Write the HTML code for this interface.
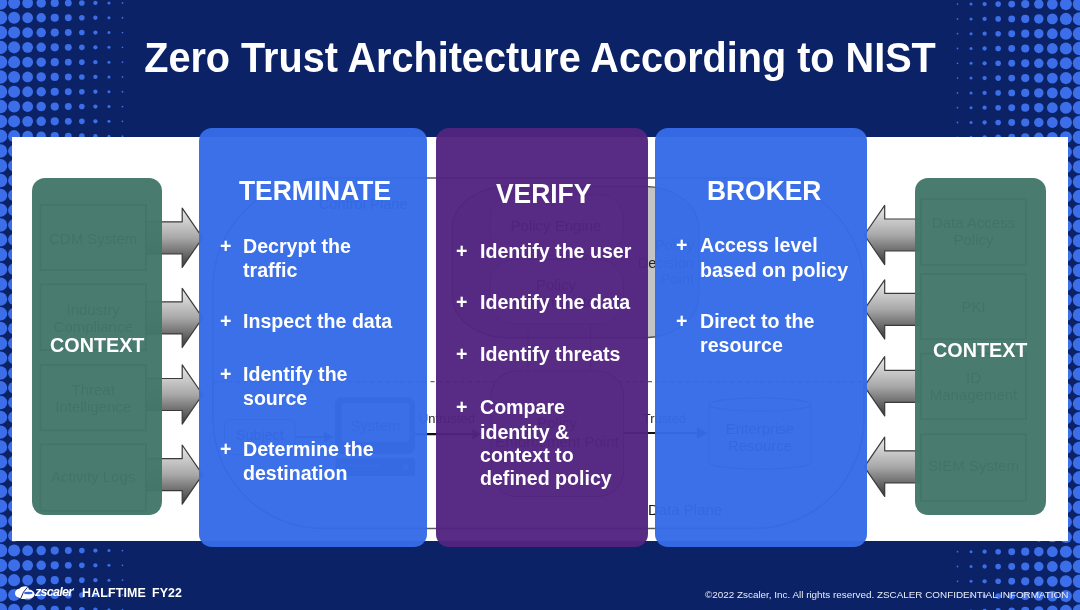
<!DOCTYPE html>
<html><head><meta charset="utf-8">
<style>
*{margin:0;padding:0;box-sizing:border-box}
html,body{width:1080px;height:610px;overflow:hidden;background:#0b2266}
body{position:relative;font-family:"Liberation Sans",sans-serif}
.t{position:absolute;white-space:nowrap;will-change:transform}
.abs{position:absolute}
svg text{font-family:"Liberation Sans",sans-serif}
</style></head><body>
<svg class="abs" style="left:0;top:0" width="1080" height="610" viewBox="0 0 1080 610">
<g fill="#3b6ee8"><circle cx="0.55" cy="2.95" r="6.68"/><circle cx="1079.45" cy="4.10" r="6.68"/><circle cx="0.55" cy="17.75" r="6.68"/><circle cx="1079.45" cy="18.90" r="6.68"/><circle cx="0.55" cy="32.55" r="6.68"/><circle cx="1079.45" cy="33.70" r="6.68"/><circle cx="0.55" cy="47.35" r="6.68"/><circle cx="1079.45" cy="48.50" r="6.68"/><circle cx="0.55" cy="62.15" r="6.68"/><circle cx="1079.45" cy="63.30" r="6.68"/><circle cx="0.55" cy="76.95" r="6.68"/><circle cx="1079.45" cy="78.10" r="6.68"/><circle cx="0.55" cy="91.75" r="6.68"/><circle cx="1079.45" cy="92.90" r="6.68"/><circle cx="0.55" cy="106.55" r="6.68"/><circle cx="1079.45" cy="107.70" r="6.68"/><circle cx="0.55" cy="121.35" r="6.68"/><circle cx="1079.45" cy="122.50" r="6.68"/><circle cx="0.55" cy="136.15" r="6.68"/><circle cx="1079.45" cy="137.30" r="6.68"/><circle cx="0.55" cy="150.95" r="6.68"/><circle cx="1079.45" cy="152.10" r="6.68"/><circle cx="0.55" cy="165.75" r="6.68"/><circle cx="1079.45" cy="166.90" r="6.68"/><circle cx="0.55" cy="180.55" r="6.68"/><circle cx="1079.45" cy="181.70" r="6.68"/><circle cx="0.55" cy="195.35" r="6.68"/><circle cx="1079.45" cy="196.50" r="6.68"/><circle cx="0.55" cy="210.15" r="6.68"/><circle cx="1079.45" cy="211.30" r="6.68"/><circle cx="0.55" cy="224.95" r="6.68"/><circle cx="1079.45" cy="226.10" r="6.68"/><circle cx="0.55" cy="239.75" r="6.68"/><circle cx="1079.45" cy="240.90" r="6.68"/><circle cx="0.55" cy="254.55" r="6.68"/><circle cx="1079.45" cy="255.70" r="6.68"/><circle cx="0.55" cy="269.35" r="6.68"/><circle cx="1079.45" cy="270.50" r="6.68"/><circle cx="0.55" cy="284.15" r="6.68"/><circle cx="1079.45" cy="285.30" r="6.68"/><circle cx="0.55" cy="298.95" r="6.68"/><circle cx="1079.45" cy="300.10" r="6.68"/><circle cx="0.55" cy="313.75" r="6.68"/><circle cx="1079.45" cy="314.90" r="6.68"/><circle cx="0.55" cy="328.55" r="6.68"/><circle cx="1079.45" cy="329.70" r="6.68"/><circle cx="0.55" cy="343.35" r="6.68"/><circle cx="1079.45" cy="344.50" r="6.68"/><circle cx="0.55" cy="358.15" r="6.68"/><circle cx="1079.45" cy="359.30" r="6.68"/><circle cx="0.55" cy="372.95" r="6.68"/><circle cx="1079.45" cy="374.10" r="6.68"/><circle cx="0.55" cy="387.75" r="6.68"/><circle cx="1079.45" cy="388.90" r="6.68"/><circle cx="0.55" cy="402.55" r="6.68"/><circle cx="1079.45" cy="403.70" r="6.68"/><circle cx="0.55" cy="417.35" r="6.68"/><circle cx="1079.45" cy="418.50" r="6.68"/><circle cx="0.55" cy="432.15" r="6.68"/><circle cx="1079.45" cy="433.30" r="6.68"/><circle cx="0.55" cy="446.95" r="6.68"/><circle cx="1079.45" cy="448.10" r="6.68"/><circle cx="0.55" cy="461.75" r="6.68"/><circle cx="1079.45" cy="462.90" r="6.68"/><circle cx="0.55" cy="476.55" r="6.68"/><circle cx="1079.45" cy="477.70" r="6.68"/><circle cx="0.55" cy="491.35" r="6.68"/><circle cx="1079.45" cy="492.50" r="6.68"/><circle cx="0.55" cy="506.15" r="6.68"/><circle cx="1079.45" cy="507.30" r="6.68"/><circle cx="0.55" cy="520.95" r="6.68"/><circle cx="1079.45" cy="522.10" r="6.68"/><circle cx="0.55" cy="535.75" r="6.68"/><circle cx="1079.45" cy="536.90" r="6.68"/><circle cx="0.55" cy="550.55" r="6.68"/><circle cx="1079.45" cy="551.70" r="6.68"/><circle cx="0.55" cy="565.35" r="6.68"/><circle cx="1079.45" cy="566.50" r="6.68"/><circle cx="0.55" cy="580.15" r="6.68"/><circle cx="1079.45" cy="581.30" r="6.68"/><circle cx="0.55" cy="594.95" r="6.68"/><circle cx="1079.45" cy="596.10" r="6.68"/><circle cx="0.55" cy="609.75" r="6.68"/><circle cx="1079.45" cy="610.90" r="6.68"/><circle cx="14.10" cy="2.95" r="6.04"/><circle cx="1065.90" cy="4.10" r="6.04"/><circle cx="14.10" cy="17.75" r="6.04"/><circle cx="1065.90" cy="18.90" r="6.04"/><circle cx="14.10" cy="32.55" r="6.04"/><circle cx="1065.90" cy="33.70" r="6.04"/><circle cx="14.10" cy="47.35" r="6.04"/><circle cx="1065.90" cy="48.50" r="6.04"/><circle cx="14.10" cy="62.15" r="6.04"/><circle cx="1065.90" cy="63.30" r="6.04"/><circle cx="14.10" cy="76.95" r="6.04"/><circle cx="1065.90" cy="78.10" r="6.04"/><circle cx="14.10" cy="91.75" r="6.04"/><circle cx="1065.90" cy="92.90" r="6.04"/><circle cx="14.10" cy="106.55" r="6.04"/><circle cx="1065.90" cy="107.70" r="6.04"/><circle cx="14.10" cy="121.35" r="6.04"/><circle cx="1065.90" cy="122.50" r="6.04"/><circle cx="14.10" cy="136.15" r="6.04"/><circle cx="1065.90" cy="137.30" r="6.04"/><circle cx="14.10" cy="150.95" r="6.04"/><circle cx="1065.90" cy="152.10" r="6.04"/><circle cx="14.10" cy="165.75" r="6.04"/><circle cx="1065.90" cy="166.90" r="6.04"/><circle cx="14.10" cy="180.55" r="6.04"/><circle cx="1065.90" cy="181.70" r="6.04"/><circle cx="14.10" cy="195.35" r="6.04"/><circle cx="1065.90" cy="196.50" r="6.04"/><circle cx="14.10" cy="210.15" r="6.04"/><circle cx="1065.90" cy="211.30" r="6.04"/><circle cx="14.10" cy="224.95" r="6.04"/><circle cx="1065.90" cy="226.10" r="6.04"/><circle cx="14.10" cy="239.75" r="6.04"/><circle cx="1065.90" cy="240.90" r="6.04"/><circle cx="14.10" cy="254.55" r="6.04"/><circle cx="1065.90" cy="255.70" r="6.04"/><circle cx="14.10" cy="269.35" r="6.04"/><circle cx="1065.90" cy="270.50" r="6.04"/><circle cx="14.10" cy="284.15" r="6.04"/><circle cx="1065.90" cy="285.30" r="6.04"/><circle cx="14.10" cy="298.95" r="6.04"/><circle cx="1065.90" cy="300.10" r="6.04"/><circle cx="14.10" cy="313.75" r="6.04"/><circle cx="1065.90" cy="314.90" r="6.04"/><circle cx="14.10" cy="328.55" r="6.04"/><circle cx="1065.90" cy="329.70" r="6.04"/><circle cx="14.10" cy="343.35" r="6.04"/><circle cx="1065.90" cy="344.50" r="6.04"/><circle cx="14.10" cy="358.15" r="6.04"/><circle cx="1065.90" cy="359.30" r="6.04"/><circle cx="14.10" cy="372.95" r="6.04"/><circle cx="1065.90" cy="374.10" r="6.04"/><circle cx="14.10" cy="387.75" r="6.04"/><circle cx="1065.90" cy="388.90" r="6.04"/><circle cx="14.10" cy="402.55" r="6.04"/><circle cx="1065.90" cy="403.70" r="6.04"/><circle cx="14.10" cy="417.35" r="6.04"/><circle cx="1065.90" cy="418.50" r="6.04"/><circle cx="14.10" cy="432.15" r="6.04"/><circle cx="1065.90" cy="433.30" r="6.04"/><circle cx="14.10" cy="446.95" r="6.04"/><circle cx="1065.90" cy="448.10" r="6.04"/><circle cx="14.10" cy="461.75" r="6.04"/><circle cx="1065.90" cy="462.90" r="6.04"/><circle cx="14.10" cy="476.55" r="6.04"/><circle cx="1065.90" cy="477.70" r="6.04"/><circle cx="14.10" cy="491.35" r="6.04"/><circle cx="1065.90" cy="492.50" r="6.04"/><circle cx="14.10" cy="506.15" r="6.04"/><circle cx="1065.90" cy="507.30" r="6.04"/><circle cx="14.10" cy="520.95" r="6.04"/><circle cx="1065.90" cy="522.10" r="6.04"/><circle cx="14.10" cy="535.75" r="6.04"/><circle cx="1065.90" cy="536.90" r="6.04"/><circle cx="14.10" cy="550.55" r="6.04"/><circle cx="1065.90" cy="551.70" r="6.04"/><circle cx="14.10" cy="565.35" r="6.04"/><circle cx="1065.90" cy="566.50" r="6.04"/><circle cx="14.10" cy="580.15" r="6.04"/><circle cx="1065.90" cy="581.30" r="6.04"/><circle cx="14.10" cy="594.95" r="6.04"/><circle cx="1065.90" cy="596.10" r="6.04"/><circle cx="14.10" cy="609.75" r="6.04"/><circle cx="1065.90" cy="610.90" r="6.04"/><circle cx="27.65" cy="2.95" r="5.39"/><circle cx="1052.35" cy="4.10" r="5.39"/><circle cx="27.65" cy="17.75" r="5.39"/><circle cx="1052.35" cy="18.90" r="5.39"/><circle cx="27.65" cy="32.55" r="5.39"/><circle cx="1052.35" cy="33.70" r="5.39"/><circle cx="27.65" cy="47.35" r="5.39"/><circle cx="1052.35" cy="48.50" r="5.39"/><circle cx="27.65" cy="62.15" r="5.39"/><circle cx="1052.35" cy="63.30" r="5.39"/><circle cx="27.65" cy="76.95" r="5.39"/><circle cx="1052.35" cy="78.10" r="5.39"/><circle cx="27.65" cy="91.75" r="5.39"/><circle cx="1052.35" cy="92.90" r="5.39"/><circle cx="27.65" cy="106.55" r="5.39"/><circle cx="1052.35" cy="107.70" r="5.39"/><circle cx="27.65" cy="121.35" r="5.39"/><circle cx="1052.35" cy="122.50" r="5.39"/><circle cx="27.65" cy="136.15" r="5.39"/><circle cx="1052.35" cy="137.30" r="5.39"/><circle cx="27.65" cy="150.95" r="5.39"/><circle cx="1052.35" cy="152.10" r="5.39"/><circle cx="27.65" cy="165.75" r="5.39"/><circle cx="1052.35" cy="166.90" r="5.39"/><circle cx="27.65" cy="180.55" r="5.39"/><circle cx="1052.35" cy="181.70" r="5.39"/><circle cx="27.65" cy="195.35" r="5.39"/><circle cx="1052.35" cy="196.50" r="5.39"/><circle cx="27.65" cy="210.15" r="5.39"/><circle cx="1052.35" cy="211.30" r="5.39"/><circle cx="27.65" cy="224.95" r="5.39"/><circle cx="1052.35" cy="226.10" r="5.39"/><circle cx="27.65" cy="239.75" r="5.39"/><circle cx="1052.35" cy="240.90" r="5.39"/><circle cx="27.65" cy="254.55" r="5.39"/><circle cx="1052.35" cy="255.70" r="5.39"/><circle cx="27.65" cy="269.35" r="5.39"/><circle cx="1052.35" cy="270.50" r="5.39"/><circle cx="27.65" cy="284.15" r="5.39"/><circle cx="1052.35" cy="285.30" r="5.39"/><circle cx="27.65" cy="298.95" r="5.39"/><circle cx="1052.35" cy="300.10" r="5.39"/><circle cx="27.65" cy="313.75" r="5.39"/><circle cx="1052.35" cy="314.90" r="5.39"/><circle cx="27.65" cy="328.55" r="5.39"/><circle cx="1052.35" cy="329.70" r="5.39"/><circle cx="27.65" cy="343.35" r="5.39"/><circle cx="1052.35" cy="344.50" r="5.39"/><circle cx="27.65" cy="358.15" r="5.39"/><circle cx="1052.35" cy="359.30" r="5.39"/><circle cx="27.65" cy="372.95" r="5.39"/><circle cx="1052.35" cy="374.10" r="5.39"/><circle cx="27.65" cy="387.75" r="5.39"/><circle cx="1052.35" cy="388.90" r="5.39"/><circle cx="27.65" cy="402.55" r="5.39"/><circle cx="1052.35" cy="403.70" r="5.39"/><circle cx="27.65" cy="417.35" r="5.39"/><circle cx="1052.35" cy="418.50" r="5.39"/><circle cx="27.65" cy="432.15" r="5.39"/><circle cx="1052.35" cy="433.30" r="5.39"/><circle cx="27.65" cy="446.95" r="5.39"/><circle cx="1052.35" cy="448.10" r="5.39"/><circle cx="27.65" cy="461.75" r="5.39"/><circle cx="1052.35" cy="462.90" r="5.39"/><circle cx="27.65" cy="476.55" r="5.39"/><circle cx="1052.35" cy="477.70" r="5.39"/><circle cx="27.65" cy="491.35" r="5.39"/><circle cx="1052.35" cy="492.50" r="5.39"/><circle cx="27.65" cy="506.15" r="5.39"/><circle cx="1052.35" cy="507.30" r="5.39"/><circle cx="27.65" cy="520.95" r="5.39"/><circle cx="1052.35" cy="522.10" r="5.39"/><circle cx="27.65" cy="535.75" r="5.39"/><circle cx="1052.35" cy="536.90" r="5.39"/><circle cx="27.65" cy="550.55" r="5.39"/><circle cx="1052.35" cy="551.70" r="5.39"/><circle cx="27.65" cy="565.35" r="5.39"/><circle cx="1052.35" cy="566.50" r="5.39"/><circle cx="27.65" cy="580.15" r="5.39"/><circle cx="1052.35" cy="581.30" r="5.39"/><circle cx="27.65" cy="594.95" r="5.39"/><circle cx="1052.35" cy="596.10" r="5.39"/><circle cx="27.65" cy="609.75" r="5.39"/><circle cx="1052.35" cy="610.90" r="5.39"/><circle cx="41.20" cy="2.95" r="4.74"/><circle cx="1038.80" cy="4.10" r="4.74"/><circle cx="41.20" cy="17.75" r="4.74"/><circle cx="1038.80" cy="18.90" r="4.74"/><circle cx="41.20" cy="32.55" r="4.74"/><circle cx="1038.80" cy="33.70" r="4.74"/><circle cx="41.20" cy="47.35" r="4.74"/><circle cx="1038.80" cy="48.50" r="4.74"/><circle cx="41.20" cy="62.15" r="4.74"/><circle cx="1038.80" cy="63.30" r="4.74"/><circle cx="41.20" cy="76.95" r="4.74"/><circle cx="1038.80" cy="78.10" r="4.74"/><circle cx="41.20" cy="91.75" r="4.74"/><circle cx="1038.80" cy="92.90" r="4.74"/><circle cx="41.20" cy="106.55" r="4.74"/><circle cx="1038.80" cy="107.70" r="4.74"/><circle cx="41.20" cy="121.35" r="4.74"/><circle cx="1038.80" cy="122.50" r="4.74"/><circle cx="41.20" cy="136.15" r="4.74"/><circle cx="1038.80" cy="137.30" r="4.74"/><circle cx="41.20" cy="150.95" r="4.74"/><circle cx="1038.80" cy="152.10" r="4.74"/><circle cx="41.20" cy="165.75" r="4.74"/><circle cx="1038.80" cy="166.90" r="4.74"/><circle cx="41.20" cy="180.55" r="4.74"/><circle cx="1038.80" cy="181.70" r="4.74"/><circle cx="41.20" cy="195.35" r="4.74"/><circle cx="1038.80" cy="196.50" r="4.74"/><circle cx="41.20" cy="210.15" r="4.74"/><circle cx="1038.80" cy="211.30" r="4.74"/><circle cx="41.20" cy="224.95" r="4.74"/><circle cx="1038.80" cy="226.10" r="4.74"/><circle cx="41.20" cy="239.75" r="4.74"/><circle cx="1038.80" cy="240.90" r="4.74"/><circle cx="41.20" cy="254.55" r="4.74"/><circle cx="1038.80" cy="255.70" r="4.74"/><circle cx="41.20" cy="269.35" r="4.74"/><circle cx="1038.80" cy="270.50" r="4.74"/><circle cx="41.20" cy="284.15" r="4.74"/><circle cx="1038.80" cy="285.30" r="4.74"/><circle cx="41.20" cy="298.95" r="4.74"/><circle cx="1038.80" cy="300.10" r="4.74"/><circle cx="41.20" cy="313.75" r="4.74"/><circle cx="1038.80" cy="314.90" r="4.74"/><circle cx="41.20" cy="328.55" r="4.74"/><circle cx="1038.80" cy="329.70" r="4.74"/><circle cx="41.20" cy="343.35" r="4.74"/><circle cx="1038.80" cy="344.50" r="4.74"/><circle cx="41.20" cy="358.15" r="4.74"/><circle cx="1038.80" cy="359.30" r="4.74"/><circle cx="41.20" cy="372.95" r="4.74"/><circle cx="1038.80" cy="374.10" r="4.74"/><circle cx="41.20" cy="387.75" r="4.74"/><circle cx="1038.80" cy="388.90" r="4.74"/><circle cx="41.20" cy="402.55" r="4.74"/><circle cx="1038.80" cy="403.70" r="4.74"/><circle cx="41.20" cy="417.35" r="4.74"/><circle cx="1038.80" cy="418.50" r="4.74"/><circle cx="41.20" cy="432.15" r="4.74"/><circle cx="1038.80" cy="433.30" r="4.74"/><circle cx="41.20" cy="446.95" r="4.74"/><circle cx="1038.80" cy="448.10" r="4.74"/><circle cx="41.20" cy="461.75" r="4.74"/><circle cx="1038.80" cy="462.90" r="4.74"/><circle cx="41.20" cy="476.55" r="4.74"/><circle cx="1038.80" cy="477.70" r="4.74"/><circle cx="41.20" cy="491.35" r="4.74"/><circle cx="1038.80" cy="492.50" r="4.74"/><circle cx="41.20" cy="506.15" r="4.74"/><circle cx="1038.80" cy="507.30" r="4.74"/><circle cx="41.20" cy="520.95" r="4.74"/><circle cx="1038.80" cy="522.10" r="4.74"/><circle cx="41.20" cy="535.75" r="4.74"/><circle cx="1038.80" cy="536.90" r="4.74"/><circle cx="41.20" cy="550.55" r="4.74"/><circle cx="1038.80" cy="551.70" r="4.74"/><circle cx="41.20" cy="565.35" r="4.74"/><circle cx="1038.80" cy="566.50" r="4.74"/><circle cx="41.20" cy="580.15" r="4.74"/><circle cx="1038.80" cy="581.30" r="4.74"/><circle cx="41.20" cy="594.95" r="4.74"/><circle cx="1038.80" cy="596.10" r="4.74"/><circle cx="41.20" cy="609.75" r="4.74"/><circle cx="1038.80" cy="610.90" r="4.74"/><circle cx="54.75" cy="2.95" r="4.10"/><circle cx="1025.25" cy="4.10" r="4.10"/><circle cx="54.75" cy="17.75" r="4.10"/><circle cx="1025.25" cy="18.90" r="4.10"/><circle cx="54.75" cy="32.55" r="4.10"/><circle cx="1025.25" cy="33.70" r="4.10"/><circle cx="54.75" cy="47.35" r="4.10"/><circle cx="1025.25" cy="48.50" r="4.10"/><circle cx="54.75" cy="62.15" r="4.10"/><circle cx="1025.25" cy="63.30" r="4.10"/><circle cx="54.75" cy="76.95" r="4.10"/><circle cx="1025.25" cy="78.10" r="4.10"/><circle cx="54.75" cy="91.75" r="4.10"/><circle cx="1025.25" cy="92.90" r="4.10"/><circle cx="54.75" cy="106.55" r="4.10"/><circle cx="1025.25" cy="107.70" r="4.10"/><circle cx="54.75" cy="121.35" r="4.10"/><circle cx="1025.25" cy="122.50" r="4.10"/><circle cx="54.75" cy="136.15" r="4.10"/><circle cx="1025.25" cy="137.30" r="4.10"/><circle cx="54.75" cy="150.95" r="4.10"/><circle cx="1025.25" cy="152.10" r="4.10"/><circle cx="54.75" cy="165.75" r="4.10"/><circle cx="1025.25" cy="166.90" r="4.10"/><circle cx="54.75" cy="180.55" r="4.10"/><circle cx="1025.25" cy="181.70" r="4.10"/><circle cx="54.75" cy="195.35" r="4.10"/><circle cx="1025.25" cy="196.50" r="4.10"/><circle cx="54.75" cy="210.15" r="4.10"/><circle cx="1025.25" cy="211.30" r="4.10"/><circle cx="54.75" cy="224.95" r="4.10"/><circle cx="1025.25" cy="226.10" r="4.10"/><circle cx="54.75" cy="239.75" r="4.10"/><circle cx="1025.25" cy="240.90" r="4.10"/><circle cx="54.75" cy="254.55" r="4.10"/><circle cx="1025.25" cy="255.70" r="4.10"/><circle cx="54.75" cy="269.35" r="4.10"/><circle cx="1025.25" cy="270.50" r="4.10"/><circle cx="54.75" cy="284.15" r="4.10"/><circle cx="1025.25" cy="285.30" r="4.10"/><circle cx="54.75" cy="298.95" r="4.10"/><circle cx="1025.25" cy="300.10" r="4.10"/><circle cx="54.75" cy="313.75" r="4.10"/><circle cx="1025.25" cy="314.90" r="4.10"/><circle cx="54.75" cy="328.55" r="4.10"/><circle cx="1025.25" cy="329.70" r="4.10"/><circle cx="54.75" cy="343.35" r="4.10"/><circle cx="1025.25" cy="344.50" r="4.10"/><circle cx="54.75" cy="358.15" r="4.10"/><circle cx="1025.25" cy="359.30" r="4.10"/><circle cx="54.75" cy="372.95" r="4.10"/><circle cx="1025.25" cy="374.10" r="4.10"/><circle cx="54.75" cy="387.75" r="4.10"/><circle cx="1025.25" cy="388.90" r="4.10"/><circle cx="54.75" cy="402.55" r="4.10"/><circle cx="1025.25" cy="403.70" r="4.10"/><circle cx="54.75" cy="417.35" r="4.10"/><circle cx="1025.25" cy="418.50" r="4.10"/><circle cx="54.75" cy="432.15" r="4.10"/><circle cx="1025.25" cy="433.30" r="4.10"/><circle cx="54.75" cy="446.95" r="4.10"/><circle cx="1025.25" cy="448.10" r="4.10"/><circle cx="54.75" cy="461.75" r="4.10"/><circle cx="1025.25" cy="462.90" r="4.10"/><circle cx="54.75" cy="476.55" r="4.10"/><circle cx="1025.25" cy="477.70" r="4.10"/><circle cx="54.75" cy="491.35" r="4.10"/><circle cx="1025.25" cy="492.50" r="4.10"/><circle cx="54.75" cy="506.15" r="4.10"/><circle cx="1025.25" cy="507.30" r="4.10"/><circle cx="54.75" cy="520.95" r="4.10"/><circle cx="1025.25" cy="522.10" r="4.10"/><circle cx="54.75" cy="535.75" r="4.10"/><circle cx="1025.25" cy="536.90" r="4.10"/><circle cx="54.75" cy="550.55" r="4.10"/><circle cx="1025.25" cy="551.70" r="4.10"/><circle cx="54.75" cy="565.35" r="4.10"/><circle cx="1025.25" cy="566.50" r="4.10"/><circle cx="54.75" cy="580.15" r="4.10"/><circle cx="1025.25" cy="581.30" r="4.10"/><circle cx="54.75" cy="594.95" r="4.10"/><circle cx="1025.25" cy="596.10" r="4.10"/><circle cx="54.75" cy="609.75" r="4.10"/><circle cx="1025.25" cy="610.90" r="4.10"/><circle cx="68.30" cy="2.95" r="3.45"/><circle cx="1011.70" cy="4.10" r="3.45"/><circle cx="68.30" cy="17.75" r="3.45"/><circle cx="1011.70" cy="18.90" r="3.45"/><circle cx="68.30" cy="32.55" r="3.45"/><circle cx="1011.70" cy="33.70" r="3.45"/><circle cx="68.30" cy="47.35" r="3.45"/><circle cx="1011.70" cy="48.50" r="3.45"/><circle cx="68.30" cy="62.15" r="3.45"/><circle cx="1011.70" cy="63.30" r="3.45"/><circle cx="68.30" cy="76.95" r="3.45"/><circle cx="1011.70" cy="78.10" r="3.45"/><circle cx="68.30" cy="91.75" r="3.45"/><circle cx="1011.70" cy="92.90" r="3.45"/><circle cx="68.30" cy="106.55" r="3.45"/><circle cx="1011.70" cy="107.70" r="3.45"/><circle cx="68.30" cy="121.35" r="3.45"/><circle cx="1011.70" cy="122.50" r="3.45"/><circle cx="68.30" cy="136.15" r="3.45"/><circle cx="1011.70" cy="137.30" r="3.45"/><circle cx="68.30" cy="150.95" r="3.45"/><circle cx="1011.70" cy="152.10" r="3.45"/><circle cx="68.30" cy="165.75" r="3.45"/><circle cx="1011.70" cy="166.90" r="3.45"/><circle cx="68.30" cy="180.55" r="3.45"/><circle cx="1011.70" cy="181.70" r="3.45"/><circle cx="68.30" cy="195.35" r="3.45"/><circle cx="1011.70" cy="196.50" r="3.45"/><circle cx="68.30" cy="210.15" r="3.45"/><circle cx="1011.70" cy="211.30" r="3.45"/><circle cx="68.30" cy="224.95" r="3.45"/><circle cx="1011.70" cy="226.10" r="3.45"/><circle cx="68.30" cy="239.75" r="3.45"/><circle cx="1011.70" cy="240.90" r="3.45"/><circle cx="68.30" cy="254.55" r="3.45"/><circle cx="1011.70" cy="255.70" r="3.45"/><circle cx="68.30" cy="269.35" r="3.45"/><circle cx="1011.70" cy="270.50" r="3.45"/><circle cx="68.30" cy="284.15" r="3.45"/><circle cx="1011.70" cy="285.30" r="3.45"/><circle cx="68.30" cy="298.95" r="3.45"/><circle cx="1011.70" cy="300.10" r="3.45"/><circle cx="68.30" cy="313.75" r="3.45"/><circle cx="1011.70" cy="314.90" r="3.45"/><circle cx="68.30" cy="328.55" r="3.45"/><circle cx="1011.70" cy="329.70" r="3.45"/><circle cx="68.30" cy="343.35" r="3.45"/><circle cx="1011.70" cy="344.50" r="3.45"/><circle cx="68.30" cy="358.15" r="3.45"/><circle cx="1011.70" cy="359.30" r="3.45"/><circle cx="68.30" cy="372.95" r="3.45"/><circle cx="1011.70" cy="374.10" r="3.45"/><circle cx="68.30" cy="387.75" r="3.45"/><circle cx="1011.70" cy="388.90" r="3.45"/><circle cx="68.30" cy="402.55" r="3.45"/><circle cx="1011.70" cy="403.70" r="3.45"/><circle cx="68.30" cy="417.35" r="3.45"/><circle cx="1011.70" cy="418.50" r="3.45"/><circle cx="68.30" cy="432.15" r="3.45"/><circle cx="1011.70" cy="433.30" r="3.45"/><circle cx="68.30" cy="446.95" r="3.45"/><circle cx="1011.70" cy="448.10" r="3.45"/><circle cx="68.30" cy="461.75" r="3.45"/><circle cx="1011.70" cy="462.90" r="3.45"/><circle cx="68.30" cy="476.55" r="3.45"/><circle cx="1011.70" cy="477.70" r="3.45"/><circle cx="68.30" cy="491.35" r="3.45"/><circle cx="1011.70" cy="492.50" r="3.45"/><circle cx="68.30" cy="506.15" r="3.45"/><circle cx="1011.70" cy="507.30" r="3.45"/><circle cx="68.30" cy="520.95" r="3.45"/><circle cx="1011.70" cy="522.10" r="3.45"/><circle cx="68.30" cy="535.75" r="3.45"/><circle cx="1011.70" cy="536.90" r="3.45"/><circle cx="68.30" cy="550.55" r="3.45"/><circle cx="1011.70" cy="551.70" r="3.45"/><circle cx="68.30" cy="565.35" r="3.45"/><circle cx="1011.70" cy="566.50" r="3.45"/><circle cx="68.30" cy="580.15" r="3.45"/><circle cx="1011.70" cy="581.30" r="3.45"/><circle cx="68.30" cy="594.95" r="3.45"/><circle cx="1011.70" cy="596.10" r="3.45"/><circle cx="68.30" cy="609.75" r="3.45"/><circle cx="1011.70" cy="610.90" r="3.45"/><circle cx="81.85" cy="2.95" r="2.81"/><circle cx="998.15" cy="4.10" r="2.81"/><circle cx="81.85" cy="17.75" r="2.81"/><circle cx="998.15" cy="18.90" r="2.81"/><circle cx="81.85" cy="32.55" r="2.81"/><circle cx="998.15" cy="33.70" r="2.81"/><circle cx="81.85" cy="47.35" r="2.81"/><circle cx="998.15" cy="48.50" r="2.81"/><circle cx="81.85" cy="62.15" r="2.81"/><circle cx="998.15" cy="63.30" r="2.81"/><circle cx="81.85" cy="76.95" r="2.81"/><circle cx="998.15" cy="78.10" r="2.81"/><circle cx="81.85" cy="91.75" r="2.81"/><circle cx="998.15" cy="92.90" r="2.81"/><circle cx="81.85" cy="106.55" r="2.81"/><circle cx="998.15" cy="107.70" r="2.81"/><circle cx="81.85" cy="121.35" r="2.81"/><circle cx="998.15" cy="122.50" r="2.81"/><circle cx="81.85" cy="136.15" r="2.81"/><circle cx="998.15" cy="137.30" r="2.81"/><circle cx="81.85" cy="150.95" r="2.81"/><circle cx="998.15" cy="152.10" r="2.81"/><circle cx="81.85" cy="165.75" r="2.81"/><circle cx="998.15" cy="166.90" r="2.81"/><circle cx="81.85" cy="180.55" r="2.81"/><circle cx="998.15" cy="181.70" r="2.81"/><circle cx="81.85" cy="195.35" r="2.81"/><circle cx="998.15" cy="196.50" r="2.81"/><circle cx="81.85" cy="210.15" r="2.81"/><circle cx="998.15" cy="211.30" r="2.81"/><circle cx="81.85" cy="224.95" r="2.81"/><circle cx="998.15" cy="226.10" r="2.81"/><circle cx="81.85" cy="239.75" r="2.81"/><circle cx="998.15" cy="240.90" r="2.81"/><circle cx="81.85" cy="254.55" r="2.81"/><circle cx="998.15" cy="255.70" r="2.81"/><circle cx="81.85" cy="269.35" r="2.81"/><circle cx="998.15" cy="270.50" r="2.81"/><circle cx="81.85" cy="284.15" r="2.81"/><circle cx="998.15" cy="285.30" r="2.81"/><circle cx="81.85" cy="298.95" r="2.81"/><circle cx="998.15" cy="300.10" r="2.81"/><circle cx="81.85" cy="313.75" r="2.81"/><circle cx="998.15" cy="314.90" r="2.81"/><circle cx="81.85" cy="328.55" r="2.81"/><circle cx="998.15" cy="329.70" r="2.81"/><circle cx="81.85" cy="343.35" r="2.81"/><circle cx="998.15" cy="344.50" r="2.81"/><circle cx="81.85" cy="358.15" r="2.81"/><circle cx="998.15" cy="359.30" r="2.81"/><circle cx="81.85" cy="372.95" r="2.81"/><circle cx="998.15" cy="374.10" r="2.81"/><circle cx="81.85" cy="387.75" r="2.81"/><circle cx="998.15" cy="388.90" r="2.81"/><circle cx="81.85" cy="402.55" r="2.81"/><circle cx="998.15" cy="403.70" r="2.81"/><circle cx="81.85" cy="417.35" r="2.81"/><circle cx="998.15" cy="418.50" r="2.81"/><circle cx="81.85" cy="432.15" r="2.81"/><circle cx="998.15" cy="433.30" r="2.81"/><circle cx="81.85" cy="446.95" r="2.81"/><circle cx="998.15" cy="448.10" r="2.81"/><circle cx="81.85" cy="461.75" r="2.81"/><circle cx="998.15" cy="462.90" r="2.81"/><circle cx="81.85" cy="476.55" r="2.81"/><circle cx="998.15" cy="477.70" r="2.81"/><circle cx="81.85" cy="491.35" r="2.81"/><circle cx="998.15" cy="492.50" r="2.81"/><circle cx="81.85" cy="506.15" r="2.81"/><circle cx="998.15" cy="507.30" r="2.81"/><circle cx="81.85" cy="520.95" r="2.81"/><circle cx="998.15" cy="522.10" r="2.81"/><circle cx="81.85" cy="535.75" r="2.81"/><circle cx="998.15" cy="536.90" r="2.81"/><circle cx="81.85" cy="550.55" r="2.81"/><circle cx="998.15" cy="551.70" r="2.81"/><circle cx="81.85" cy="565.35" r="2.81"/><circle cx="998.15" cy="566.50" r="2.81"/><circle cx="81.85" cy="580.15" r="2.81"/><circle cx="998.15" cy="581.30" r="2.81"/><circle cx="81.85" cy="594.95" r="2.81"/><circle cx="998.15" cy="596.10" r="2.81"/><circle cx="81.85" cy="609.75" r="2.81"/><circle cx="998.15" cy="610.90" r="2.81"/><circle cx="95.40" cy="2.95" r="2.16"/><circle cx="984.60" cy="4.10" r="2.16"/><circle cx="95.40" cy="17.75" r="2.16"/><circle cx="984.60" cy="18.90" r="2.16"/><circle cx="95.40" cy="32.55" r="2.16"/><circle cx="984.60" cy="33.70" r="2.16"/><circle cx="95.40" cy="47.35" r="2.16"/><circle cx="984.60" cy="48.50" r="2.16"/><circle cx="95.40" cy="62.15" r="2.16"/><circle cx="984.60" cy="63.30" r="2.16"/><circle cx="95.40" cy="76.95" r="2.16"/><circle cx="984.60" cy="78.10" r="2.16"/><circle cx="95.40" cy="91.75" r="2.16"/><circle cx="984.60" cy="92.90" r="2.16"/><circle cx="95.40" cy="106.55" r="2.16"/><circle cx="984.60" cy="107.70" r="2.16"/><circle cx="95.40" cy="121.35" r="2.16"/><circle cx="984.60" cy="122.50" r="2.16"/><circle cx="95.40" cy="136.15" r="2.16"/><circle cx="984.60" cy="137.30" r="2.16"/><circle cx="95.40" cy="150.95" r="2.16"/><circle cx="984.60" cy="152.10" r="2.16"/><circle cx="95.40" cy="165.75" r="2.16"/><circle cx="984.60" cy="166.90" r="2.16"/><circle cx="95.40" cy="180.55" r="2.16"/><circle cx="984.60" cy="181.70" r="2.16"/><circle cx="95.40" cy="195.35" r="2.16"/><circle cx="984.60" cy="196.50" r="2.16"/><circle cx="95.40" cy="210.15" r="2.16"/><circle cx="984.60" cy="211.30" r="2.16"/><circle cx="95.40" cy="224.95" r="2.16"/><circle cx="984.60" cy="226.10" r="2.16"/><circle cx="95.40" cy="239.75" r="2.16"/><circle cx="984.60" cy="240.90" r="2.16"/><circle cx="95.40" cy="254.55" r="2.16"/><circle cx="984.60" cy="255.70" r="2.16"/><circle cx="95.40" cy="269.35" r="2.16"/><circle cx="984.60" cy="270.50" r="2.16"/><circle cx="95.40" cy="284.15" r="2.16"/><circle cx="984.60" cy="285.30" r="2.16"/><circle cx="95.40" cy="298.95" r="2.16"/><circle cx="984.60" cy="300.10" r="2.16"/><circle cx="95.40" cy="313.75" r="2.16"/><circle cx="984.60" cy="314.90" r="2.16"/><circle cx="95.40" cy="328.55" r="2.16"/><circle cx="984.60" cy="329.70" r="2.16"/><circle cx="95.40" cy="343.35" r="2.16"/><circle cx="984.60" cy="344.50" r="2.16"/><circle cx="95.40" cy="358.15" r="2.16"/><circle cx="984.60" cy="359.30" r="2.16"/><circle cx="95.40" cy="372.95" r="2.16"/><circle cx="984.60" cy="374.10" r="2.16"/><circle cx="95.40" cy="387.75" r="2.16"/><circle cx="984.60" cy="388.90" r="2.16"/><circle cx="95.40" cy="402.55" r="2.16"/><circle cx="984.60" cy="403.70" r="2.16"/><circle cx="95.40" cy="417.35" r="2.16"/><circle cx="984.60" cy="418.50" r="2.16"/><circle cx="95.40" cy="432.15" r="2.16"/><circle cx="984.60" cy="433.30" r="2.16"/><circle cx="95.40" cy="446.95" r="2.16"/><circle cx="984.60" cy="448.10" r="2.16"/><circle cx="95.40" cy="461.75" r="2.16"/><circle cx="984.60" cy="462.90" r="2.16"/><circle cx="95.40" cy="476.55" r="2.16"/><circle cx="984.60" cy="477.70" r="2.16"/><circle cx="95.40" cy="491.35" r="2.16"/><circle cx="984.60" cy="492.50" r="2.16"/><circle cx="95.40" cy="506.15" r="2.16"/><circle cx="984.60" cy="507.30" r="2.16"/><circle cx="95.40" cy="520.95" r="2.16"/><circle cx="984.60" cy="522.10" r="2.16"/><circle cx="95.40" cy="535.75" r="2.16"/><circle cx="984.60" cy="536.90" r="2.16"/><circle cx="95.40" cy="550.55" r="2.16"/><circle cx="984.60" cy="551.70" r="2.16"/><circle cx="95.40" cy="565.35" r="2.16"/><circle cx="984.60" cy="566.50" r="2.16"/><circle cx="95.40" cy="580.15" r="2.16"/><circle cx="984.60" cy="581.30" r="2.16"/><circle cx="95.40" cy="594.95" r="2.16"/><circle cx="984.60" cy="596.10" r="2.16"/><circle cx="95.40" cy="609.75" r="2.16"/><circle cx="984.60" cy="610.90" r="2.16"/><circle cx="108.95" cy="2.95" r="1.52"/><circle cx="971.05" cy="4.10" r="1.52"/><circle cx="108.95" cy="17.75" r="1.52"/><circle cx="971.05" cy="18.90" r="1.52"/><circle cx="108.95" cy="32.55" r="1.52"/><circle cx="971.05" cy="33.70" r="1.52"/><circle cx="108.95" cy="47.35" r="1.52"/><circle cx="971.05" cy="48.50" r="1.52"/><circle cx="108.95" cy="62.15" r="1.52"/><circle cx="971.05" cy="63.30" r="1.52"/><circle cx="108.95" cy="76.95" r="1.52"/><circle cx="971.05" cy="78.10" r="1.52"/><circle cx="108.95" cy="91.75" r="1.52"/><circle cx="971.05" cy="92.90" r="1.52"/><circle cx="108.95" cy="106.55" r="1.52"/><circle cx="971.05" cy="107.70" r="1.52"/><circle cx="108.95" cy="121.35" r="1.52"/><circle cx="971.05" cy="122.50" r="1.52"/><circle cx="108.95" cy="136.15" r="1.52"/><circle cx="971.05" cy="137.30" r="1.52"/><circle cx="108.95" cy="150.95" r="1.52"/><circle cx="971.05" cy="152.10" r="1.52"/><circle cx="108.95" cy="165.75" r="1.52"/><circle cx="971.05" cy="166.90" r="1.52"/><circle cx="108.95" cy="180.55" r="1.52"/><circle cx="971.05" cy="181.70" r="1.52"/><circle cx="108.95" cy="195.35" r="1.52"/><circle cx="971.05" cy="196.50" r="1.52"/><circle cx="108.95" cy="210.15" r="1.52"/><circle cx="971.05" cy="211.30" r="1.52"/><circle cx="108.95" cy="224.95" r="1.52"/><circle cx="971.05" cy="226.10" r="1.52"/><circle cx="108.95" cy="239.75" r="1.52"/><circle cx="971.05" cy="240.90" r="1.52"/><circle cx="108.95" cy="254.55" r="1.52"/><circle cx="971.05" cy="255.70" r="1.52"/><circle cx="108.95" cy="269.35" r="1.52"/><circle cx="971.05" cy="270.50" r="1.52"/><circle cx="108.95" cy="284.15" r="1.52"/><circle cx="971.05" cy="285.30" r="1.52"/><circle cx="108.95" cy="298.95" r="1.52"/><circle cx="971.05" cy="300.10" r="1.52"/><circle cx="108.95" cy="313.75" r="1.52"/><circle cx="971.05" cy="314.90" r="1.52"/><circle cx="108.95" cy="328.55" r="1.52"/><circle cx="971.05" cy="329.70" r="1.52"/><circle cx="108.95" cy="343.35" r="1.52"/><circle cx="971.05" cy="344.50" r="1.52"/><circle cx="108.95" cy="358.15" r="1.52"/><circle cx="971.05" cy="359.30" r="1.52"/><circle cx="108.95" cy="372.95" r="1.52"/><circle cx="971.05" cy="374.10" r="1.52"/><circle cx="108.95" cy="387.75" r="1.52"/><circle cx="971.05" cy="388.90" r="1.52"/><circle cx="108.95" cy="402.55" r="1.52"/><circle cx="971.05" cy="403.70" r="1.52"/><circle cx="108.95" cy="417.35" r="1.52"/><circle cx="971.05" cy="418.50" r="1.52"/><circle cx="108.95" cy="432.15" r="1.52"/><circle cx="971.05" cy="433.30" r="1.52"/><circle cx="108.95" cy="446.95" r="1.52"/><circle cx="971.05" cy="448.10" r="1.52"/><circle cx="108.95" cy="461.75" r="1.52"/><circle cx="971.05" cy="462.90" r="1.52"/><circle cx="108.95" cy="476.55" r="1.52"/><circle cx="971.05" cy="477.70" r="1.52"/><circle cx="108.95" cy="491.35" r="1.52"/><circle cx="971.05" cy="492.50" r="1.52"/><circle cx="108.95" cy="506.15" r="1.52"/><circle cx="971.05" cy="507.30" r="1.52"/><circle cx="108.95" cy="520.95" r="1.52"/><circle cx="971.05" cy="522.10" r="1.52"/><circle cx="108.95" cy="535.75" r="1.52"/><circle cx="971.05" cy="536.90" r="1.52"/><circle cx="108.95" cy="550.55" r="1.52"/><circle cx="971.05" cy="551.70" r="1.52"/><circle cx="108.95" cy="565.35" r="1.52"/><circle cx="971.05" cy="566.50" r="1.52"/><circle cx="108.95" cy="580.15" r="1.52"/><circle cx="971.05" cy="581.30" r="1.52"/><circle cx="108.95" cy="594.95" r="1.52"/><circle cx="971.05" cy="596.10" r="1.52"/><circle cx="108.95" cy="609.75" r="1.52"/><circle cx="971.05" cy="610.90" r="1.52"/><circle cx="122.50" cy="2.95" r="0.88"/><circle cx="957.50" cy="4.10" r="0.88"/><circle cx="122.50" cy="17.75" r="0.88"/><circle cx="957.50" cy="18.90" r="0.88"/><circle cx="122.50" cy="32.55" r="0.88"/><circle cx="957.50" cy="33.70" r="0.88"/><circle cx="122.50" cy="47.35" r="0.88"/><circle cx="957.50" cy="48.50" r="0.88"/><circle cx="122.50" cy="62.15" r="0.88"/><circle cx="957.50" cy="63.30" r="0.88"/><circle cx="122.50" cy="76.95" r="0.88"/><circle cx="957.50" cy="78.10" r="0.88"/><circle cx="122.50" cy="91.75" r="0.88"/><circle cx="957.50" cy="92.90" r="0.88"/><circle cx="122.50" cy="106.55" r="0.88"/><circle cx="957.50" cy="107.70" r="0.88"/><circle cx="122.50" cy="121.35" r="0.88"/><circle cx="957.50" cy="122.50" r="0.88"/><circle cx="122.50" cy="136.15" r="0.88"/><circle cx="957.50" cy="137.30" r="0.88"/><circle cx="122.50" cy="150.95" r="0.88"/><circle cx="957.50" cy="152.10" r="0.88"/><circle cx="122.50" cy="165.75" r="0.88"/><circle cx="957.50" cy="166.90" r="0.88"/><circle cx="122.50" cy="180.55" r="0.88"/><circle cx="957.50" cy="181.70" r="0.88"/><circle cx="122.50" cy="195.35" r="0.88"/><circle cx="957.50" cy="196.50" r="0.88"/><circle cx="122.50" cy="210.15" r="0.88"/><circle cx="957.50" cy="211.30" r="0.88"/><circle cx="122.50" cy="224.95" r="0.88"/><circle cx="957.50" cy="226.10" r="0.88"/><circle cx="122.50" cy="239.75" r="0.88"/><circle cx="957.50" cy="240.90" r="0.88"/><circle cx="122.50" cy="254.55" r="0.88"/><circle cx="957.50" cy="255.70" r="0.88"/><circle cx="122.50" cy="269.35" r="0.88"/><circle cx="957.50" cy="270.50" r="0.88"/><circle cx="122.50" cy="284.15" r="0.88"/><circle cx="957.50" cy="285.30" r="0.88"/><circle cx="122.50" cy="298.95" r="0.88"/><circle cx="957.50" cy="300.10" r="0.88"/><circle cx="122.50" cy="313.75" r="0.88"/><circle cx="957.50" cy="314.90" r="0.88"/><circle cx="122.50" cy="328.55" r="0.88"/><circle cx="957.50" cy="329.70" r="0.88"/><circle cx="122.50" cy="343.35" r="0.88"/><circle cx="957.50" cy="344.50" r="0.88"/><circle cx="122.50" cy="358.15" r="0.88"/><circle cx="957.50" cy="359.30" r="0.88"/><circle cx="122.50" cy="372.95" r="0.88"/><circle cx="957.50" cy="374.10" r="0.88"/><circle cx="122.50" cy="387.75" r="0.88"/><circle cx="957.50" cy="388.90" r="0.88"/><circle cx="122.50" cy="402.55" r="0.88"/><circle cx="957.50" cy="403.70" r="0.88"/><circle cx="122.50" cy="417.35" r="0.88"/><circle cx="957.50" cy="418.50" r="0.88"/><circle cx="122.50" cy="432.15" r="0.88"/><circle cx="957.50" cy="433.30" r="0.88"/><circle cx="122.50" cy="446.95" r="0.88"/><circle cx="957.50" cy="448.10" r="0.88"/><circle cx="122.50" cy="461.75" r="0.88"/><circle cx="957.50" cy="462.90" r="0.88"/><circle cx="122.50" cy="476.55" r="0.88"/><circle cx="957.50" cy="477.70" r="0.88"/><circle cx="122.50" cy="491.35" r="0.88"/><circle cx="957.50" cy="492.50" r="0.88"/><circle cx="122.50" cy="506.15" r="0.88"/><circle cx="957.50" cy="507.30" r="0.88"/><circle cx="122.50" cy="520.95" r="0.88"/><circle cx="957.50" cy="522.10" r="0.88"/><circle cx="122.50" cy="535.75" r="0.88"/><circle cx="957.50" cy="536.90" r="0.88"/><circle cx="122.50" cy="550.55" r="0.88"/><circle cx="957.50" cy="551.70" r="0.88"/><circle cx="122.50" cy="565.35" r="0.88"/><circle cx="957.50" cy="566.50" r="0.88"/><circle cx="122.50" cy="580.15" r="0.88"/><circle cx="957.50" cy="581.30" r="0.88"/><circle cx="122.50" cy="594.95" r="0.88"/><circle cx="957.50" cy="596.10" r="0.88"/><circle cx="122.50" cy="609.75" r="0.88"/><circle cx="957.50" cy="610.90" r="0.88"/></g>
</svg>
<div class="t" style="left:-0.2px;width:1080px;text-align:center;top:35.14px;font-size:39.62px;line-height:47.54px;font-weight:bold;color:#fff;transform:scaleY(1.06);transform-origin:0 36.86px">Zero Trust Architecture According to NIST</div>
<div class="abs" style="left:12px;top:137px;width:1056px;height:404px;background:#fff"></div>
<svg class="abs" style="left:0;top:0" width="1080" height="610" viewBox="0 0 1080 610">
<defs>
<linearGradient id="ag" x1="0" y1="0" x2="0" y2="1">
<stop offset="0" stop-color="#ececec"/><stop offset="0.5" stop-color="#a8a8a8"/><stop offset="1" stop-color="#383838"/>
</linearGradient>
</defs>
<rect x="40.5" y="205" width="105.4" height="65.0" fill="#fff" stroke="#5a5a5a" stroke-width="1.8"/><text x="93.2" y="243.7" font-size="15" text-anchor="middle" fill="#1a1a1a">CDM System</text><rect x="40.5" y="284.4" width="105.4" height="65.6" fill="#fff" stroke="#5a5a5a" stroke-width="1.8"/><text x="93.2" y="314.6" font-size="15" text-anchor="middle" fill="#1a1a1a">Industry</text><text x="93.2" y="331.6" font-size="15" text-anchor="middle" fill="#1a1a1a">Compliance</text><rect x="40.5" y="365.2" width="105.4" height="65.1" fill="#fff" stroke="#5a5a5a" stroke-width="1.8"/><text x="93.2" y="394.5" font-size="15" text-anchor="middle" fill="#1a1a1a">Threat</text><text x="93.2" y="411.6" font-size="15" text-anchor="middle" fill="#1a1a1a">Intelligence</text><rect x="40.5" y="444.4" width="105.4" height="66.4" fill="#fff" stroke="#5a5a5a" stroke-width="1.8"/><text x="93.2" y="482" font-size="15" text-anchor="middle" fill="#1a1a1a">Activity Logs</text><rect x="921" y="199.4" width="104.9" height="65.6" fill="#fff" stroke="#5a5a5a" stroke-width="1.8"/><text x="973.5" y="228.3" font-size="15" text-anchor="middle" fill="#1a1a1a">Data Access</text><text x="973.5" y="245.3" font-size="15" text-anchor="middle" fill="#1a1a1a">Policy</text><rect x="921" y="274.1" width="104.9" height="65.1" fill="#fff" stroke="#5a5a5a" stroke-width="1.8"/><text x="973.5" y="312" font-size="15" text-anchor="middle" fill="#1a1a1a">PKI</text><rect x="921" y="353.6" width="104.9" height="65.6" fill="#fff" stroke="#5a5a5a" stroke-width="1.8"/><text x="973.5" y="382.5" font-size="15" text-anchor="middle" fill="#1a1a1a">ID</text><text x="973.5" y="400.3" font-size="15" text-anchor="middle" fill="#1a1a1a">Management</text><rect x="921" y="434.4" width="104.9" height="66.4" fill="#fff" stroke="#5a5a5a" stroke-width="1.8"/><text x="973.5" y="471" font-size="15" text-anchor="middle" fill="#1a1a1a">SIEM System</text><path d="M213,381.6 L213,287.7 A110,110 0 0 1 323,177.9 L754,177.9 A110,110 0 0 1 864,287.7 L864,381.6" fill="none" stroke="#5e5e5e" stroke-width="1.5"/><text x="318.7" y="208.5" font-size="14.7" text-anchor="start" fill="#111111">Control Plane</text><rect x="452.3" y="186.3" width="246.5" height="151.5" rx="56" ry="42" fill="#c4c4c4" stroke="#555" stroke-width="1.3"/><rect x="490" y="194.8" width="133.3" height="60.6" rx="24" fill="#d4d4d4" stroke="#666" stroke-width="1"/><text x="556" y="231" font-size="15" text-anchor="middle" fill="#111111">Policy Engine</text><rect x="490" y="259.6" width="133.3" height="64.6" rx="24" fill="#d4d4d4" stroke="#666" stroke-width="1"/><text x="556" y="289.8" font-size="15" text-anchor="middle" fill="#111111">Policy</text><text x="556" y="307" font-size="15" text-anchor="middle" fill="#111111">Administrator</text><text x="694" y="249.8" font-size="14.7" text-anchor="end" fill="#222">Policy</text><text x="694" y="267.5" font-size="14.7" text-anchor="end" fill="#222">Decision</text><text x="694" y="284" font-size="14.7" text-anchor="end" fill="#222">Point</text><line x1="528" y1="324" x2="528" y2="371" stroke="#555" stroke-width="1.2"/><line x1="590.5" y1="324" x2="590.5" y2="371" stroke="#555" stroke-width="1.2"/><line x1="213" y1="381.6" x2="864" y2="381.6" stroke="#666" stroke-width="1.1" stroke-dasharray="4,3.5"/><path d="M213,381.6 L213,418.5 A110,110 0 0 0 323,528.5 L754,528.5 A110,110 0 0 0 864,418.5 L864,381.6" fill="none" stroke="#5a5a5a" stroke-width="1.6"/><text x="648" y="515" font-size="15" text-anchor="start" fill="#111111">Data Plane</text><rect x="224.5" y="419.5" width="70.6" height="35" rx="7" fill="#e4e4e4" stroke="#666" stroke-width="1"/><text x="259.8" y="440.2" font-size="14.3" text-anchor="middle" fill="#111111">Subject</text><line x1="295" y1="437" x2="326" y2="437" stroke="#333" stroke-width="1.6"/><path d="M324,431.5 L333.5,437 L324,442.5 Z" fill="#333"/><rect x="335" y="397.3" width="80" height="56.6" rx="7" fill="#555"/><rect x="341.3" y="403" width="68" height="38.6" rx="3" fill="#cfcfcf"/><text x="375.3" y="430.6" font-size="15" text-anchor="middle" fill="#333">System</text><rect x="335.5" y="458" width="79.5" height="18" rx="3" fill="#555"/><line x1="341" y1="465.5" x2="381" y2="465.5" stroke="#aaa" stroke-width="1.5"/><circle cx="405.5" cy="467" r="2.8" fill="#aaa"/><line x1="415" y1="434.1" x2="475" y2="434.1" stroke="#111" stroke-width="2.2"/><path d="M472.5,429 L481,434.2 L472.5,439.5 Z" fill="#111"/><text x="419.0" y="423.2" font-size="12.9" text-anchor="start" fill="#222">Untrusted</text><rect x="490.9" y="371" width="132.8" height="125.5" rx="26" fill="#e0e0e0" stroke="#666" stroke-width="1.2"/><text x="557" y="427.6" font-size="15" text-anchor="middle" fill="#111111">Policy</text><text x="557" y="447.3" font-size="15" text-anchor="middle" fill="#111111">Enforcement Point</text><line x1="623.7" y1="433" x2="700" y2="433" stroke="#111" stroke-width="2.2"/><path d="M697,427.5 L708,433 L697,438.5 Z" fill="#111"/><text x="642.8" y="423.2" font-size="12.9" text-anchor="start" fill="#222">Trusted</text><path d="M709,404.6 L709,462.5 A51,6.6 0 0 0 811,462.5 L811,404.6" fill="#e4e4e4" stroke="#666" stroke-width="1.2"/><ellipse cx="760" cy="404.6" rx="51" ry="6.6" fill="#eee" stroke="#666" stroke-width="1.2"/><text x="760" y="433.5" font-size="15" text-anchor="middle" fill="#111111">Enterprise</text><text x="760" y="451.2" font-size="15" text-anchor="middle" fill="#111111">Resource</text>
<path d="M145.9,221.80 L182.2,221.80 L182.2,208.20 L202.6,237.80 L182.2,267.40 L182.2,253.80 L145.9,253.80 Z" fill="url(#ag)" stroke="#3a3a3a" stroke-width="1.2" stroke-linejoin="round"/><path d="M145.9,301.90 L182.2,301.90 L182.2,288.30 L202.6,317.90 L182.2,347.50 L182.2,333.90 L145.9,333.90 Z" fill="url(#ag)" stroke="#3a3a3a" stroke-width="1.2" stroke-linejoin="round"/><path d="M145.9,378.50 L182.2,378.50 L182.2,364.90 L202.6,394.50 L182.2,424.10 L182.2,410.50 L145.9,410.50 Z" fill="url(#ag)" stroke="#3a3a3a" stroke-width="1.2" stroke-linejoin="round"/><path d="M145.9,458.60 L182.2,458.60 L182.2,445.00 L202.6,474.60 L182.2,504.20 L182.2,490.60 L145.9,490.60 Z" fill="url(#ag)" stroke="#3a3a3a" stroke-width="1.2" stroke-linejoin="round"/>
<path d="M921,219.00 L884.7,219.00 L884.7,205.40 L864.3,235.00 L884.7,264.60 L884.7,251.00 L921,251.00 Z" fill="url(#ag)" stroke="#3a3a3a" stroke-width="1.2" stroke-linejoin="round"/><path d="M921,293.40 L884.7,293.40 L884.7,279.80 L864.3,309.40 L884.7,339.00 L884.7,325.40 L921,325.40 Z" fill="url(#ag)" stroke="#3a3a3a" stroke-width="1.2" stroke-linejoin="round"/><path d="M921,370.30 L884.7,370.30 L884.7,356.70 L864.3,386.30 L884.7,415.90 L884.7,402.30 L921,402.30 Z" fill="url(#ag)" stroke="#3a3a3a" stroke-width="1.2" stroke-linejoin="round"/><path d="M921,450.80 L884.7,450.80 L884.7,437.20 L864.3,466.80 L884.7,496.40 L884.7,482.80 L921,482.80 Z" fill="url(#ag)" stroke="#3a3a3a" stroke-width="1.2" stroke-linejoin="round"/>
</svg>
<div class="abs" style="left:32px;top:178.4px;width:130.1px;height:336.6px;border-radius:13px;background:rgba(66,119,105,0.965)"></div>
<div class="abs" style="left:915.2px;top:178.4px;width:130.8px;height:336.6px;border-radius:13px;background:rgba(66,119,105,0.965)"></div>
<div class="t" style="left:50.20px;top:333.92px;font-size:19.75px;line-height:23.7px;font-weight:bold;color:#fff;">CONTEXT</div>
<div class="t" style="left:932.90px;top:338.82px;font-size:19.75px;line-height:23.7px;font-weight:bold;color:#fff;">CONTEXT</div>
<div class="abs" style="left:199px;top:128px;width:227.5px;height:419px;border-radius:13px;background:rgba(54,107,231,0.97)"></div>
<div class="abs" style="left:435.5px;top:128px;width:212.2px;height:419px;border-radius:13px;background:rgba(82,36,129,0.965)"></div>
<div class="abs" style="left:655px;top:128px;width:212.3px;height:419px;border-radius:13px;background:rgba(54,107,231,0.97)"></div>
<div class="t" style="left:238.60px;top:175.53px;font-size:26.4px;line-height:31.68px;font-weight:bold;color:#fff;transform:scaleY(1.03);transform-origin:0 24.57px;">TERMINATE</div>
<div class="t" style="left:496.40px;top:178.63px;font-size:26.4px;line-height:31.68px;font-weight:bold;color:#fff;transform:scaleY(1.03);transform-origin:0 24.57px;">VERIFY</div>
<div class="t" style="left:706.50px;top:175.73px;font-size:26.4px;line-height:31.68px;font-weight:bold;color:#fff;transform:scaleY(1.03);transform-origin:0 24.57px;">BROKER</div>
<div class="t" style="left:219.90px;top:234.66px;font-size:19.6px;line-height:23.52px;font-weight:bold;color:#fff;">+</div><div class="t" style="left:242.90px;top:234.66px;font-size:19.6px;line-height:23.52px;font-weight:bold;color:#fff;">Decrypt the</div><div class="t" style="left:242.90px;top:259.36px;font-size:19.6px;line-height:23.52px;font-weight:bold;color:#fff;">traffic</div><div class="t" style="left:219.90px;top:310.41px;font-size:19.6px;line-height:23.52px;font-weight:bold;color:#fff;">+</div><div class="t" style="left:242.90px;top:310.41px;font-size:19.6px;line-height:23.52px;font-weight:bold;color:#fff;">Inspect the data</div><div class="t" style="left:219.90px;top:362.56px;font-size:19.6px;line-height:23.52px;font-weight:bold;color:#fff;">+</div><div class="t" style="left:242.90px;top:362.56px;font-size:19.6px;line-height:23.52px;font-weight:bold;color:#fff;">Identify the</div><div class="t" style="left:242.90px;top:386.96px;font-size:19.6px;line-height:23.52px;font-weight:bold;color:#fff;">source</div><div class="t" style="left:219.90px;top:438.26px;font-size:19.6px;line-height:23.52px;font-weight:bold;color:#fff;">+</div><div class="t" style="left:242.90px;top:438.26px;font-size:19.6px;line-height:23.52px;font-weight:bold;color:#fff;">Determine the</div><div class="t" style="left:242.90px;top:462.16px;font-size:19.6px;line-height:23.52px;font-weight:bold;color:#fff;">destination</div>
<div class="t" style="left:455.60px;top:239.76px;font-size:19.6px;line-height:23.52px;font-weight:bold;color:#fff;">+</div><div class="t" style="left:479.50px;top:239.76px;font-size:19.6px;line-height:23.52px;font-weight:bold;color:#fff;">Identify the user</div><div class="t" style="left:455.60px;top:291.26px;font-size:19.6px;line-height:23.52px;font-weight:bold;color:#fff;">+</div><div class="t" style="left:479.50px;top:291.26px;font-size:19.6px;line-height:23.52px;font-weight:bold;color:#fff;">Identify the data</div><div class="t" style="left:455.60px;top:342.86px;font-size:19.6px;line-height:23.52px;font-weight:bold;color:#fff;">+</div><div class="t" style="left:479.50px;top:342.86px;font-size:19.6px;line-height:23.52px;font-weight:bold;color:#fff;">Identify threats</div><div class="t" style="left:455.60px;top:395.96px;font-size:19.6px;line-height:23.52px;font-weight:bold;color:#fff;">+</div><div class="t" style="left:479.50px;top:395.96px;font-size:19.6px;line-height:23.52px;font-weight:bold;color:#fff;">Compare</div><div class="t" style="left:479.50px;top:420.56px;font-size:19.6px;line-height:23.52px;font-weight:bold;color:#fff;">identity &amp;</div><div class="t" style="left:479.50px;top:444.36px;font-size:19.6px;line-height:23.52px;font-weight:bold;color:#fff;">context to</div><div class="t" style="left:479.50px;top:467.46px;font-size:19.6px;line-height:23.52px;font-weight:bold;color:#fff;">defined policy</div>
<div class="t" style="left:675.60px;top:234.26px;font-size:19.6px;line-height:23.52px;font-weight:bold;color:#fff;">+</div><div class="t" style="left:699.50px;top:234.26px;font-size:19.6px;line-height:23.52px;font-weight:bold;color:#fff;">Access level</div><div class="t" style="left:699.50px;top:258.66px;font-size:19.6px;line-height:23.52px;font-weight:bold;color:#fff;">based on policy</div><div class="t" style="left:675.60px;top:309.56px;font-size:19.6px;line-height:23.52px;font-weight:bold;color:#fff;">+</div><div class="t" style="left:699.50px;top:309.56px;font-size:19.6px;line-height:23.52px;font-weight:bold;color:#fff;">Direct to the</div><div class="t" style="left:699.50px;top:333.86px;font-size:19.6px;line-height:23.52px;font-weight:bold;color:#fff;">resource</div>
<div class="t" style="left:705.30px;top:588.69px;font-size:9.9px;line-height:11.88px;font-weight:normal;color:#e8ecf6;">©2022 Zscaler, Inc. All rights reserved. ZSCALER CONFIDENTIAL INFORMATION</div>
<div style="position:absolute;left:0;top:0;transform:scaleX(1.035);transform-origin:81.5px 0"><div class="t" style="left:81.50px;top:585.63px;font-size:12px;line-height:14.4px;font-weight:bold;color:#fff;letter-spacing:0.15px;">HALFTIME</div></div>
<div style="position:absolute;left:0;top:0;transform:scaleX(1.03);transform-origin:152.3px 0"><div class="t" style="left:152.30px;top:585.63px;font-size:12px;line-height:14.4px;font-weight:bold;color:#fff;letter-spacing:0.1px;">FY22</div></div>
<div class="t" style="left:35.20px;top:584.98px;font-size:12.6px;line-height:15.12px;font-weight:bold;color:#fff;font-style:italic;letter-spacing:-0.75px;">zscaler</div>
<svg class="abs" style="left:0;top:0" width="1080" height="610" viewBox="0 0 1080 610">
<g fill="#fff">
<ellipse cx="19.6" cy="593.2" rx="4.6" ry="4.4"/>
<ellipse cx="24" cy="589.3" rx="4.8" ry="2.9" transform="rotate(-12 24 589.3)"/>
<ellipse cx="28.4" cy="594.2" rx="6.2" ry="4.6"/>
<ellipse cx="23" cy="597" rx="4" ry="2"/>
</g>
<path d="M27.5,587.2 Q23,591 20.3,599.5" stroke="#0b2266" stroke-width="1" fill="none"/>
<ellipse cx="28.3" cy="593" rx="4.3" ry="1.2" fill="#2f62e0"/>
<circle cx="73.6" cy="588.6" r="0.55" fill="#fff"/>
</svg>
</body></html>
